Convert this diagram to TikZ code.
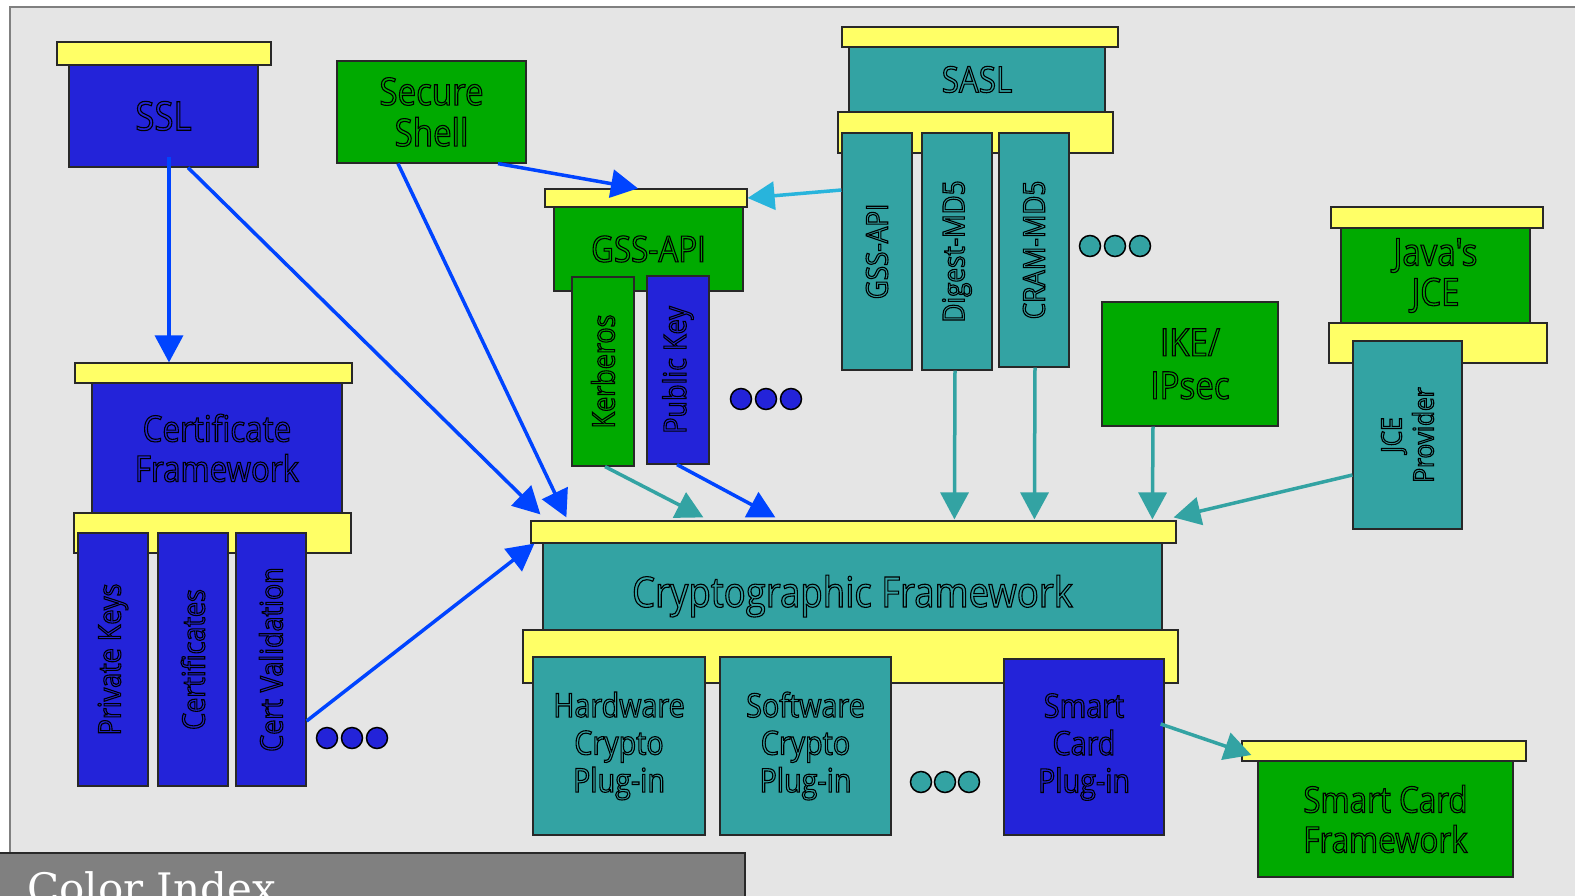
\documentclass[tikz,border=0pt]{standalone}
\usepackage{fontspec}
\newfontfamily\boxfont[FakeStretch=0.87,Ligatures=TeXOff]{Open Sans}
\newfontfamily\idxfont{DejaVu Serif}
\usetikzlibrary{arrows.meta}

\definecolor{panel}{RGB}{229,229,229}
\definecolor{bluebox}{RGB}{35,35,217}
\definecolor{greenbox}{RGB}{0,170,0}
\definecolor{tealbox}{RGB}{51,163,163}
\definecolor{ybar}{RGB}{255,255,102}
\definecolor{boxline}{RGB}{40,40,40}
\definecolor{arrblue}{RGB}{0,68,255}
\definecolor{arrcyan}{RGB}{40,180,220}
\definecolor{idxgray}{RGB}{128,128,128}

% outlined text (stroke only) / normal text
\newcommand{\outlon}{\special{pdf:literal direct 1 Tr 1.1 w}}
\newcommand{\filledon}{\special{pdf:literal direct 0 Tr}}

\tikzset{
  box/.style={draw=boxline, line width=1.2pt, rectangle, inner sep=0pt, text=black, align=center},
  bar/.style={box, fill=ybar},
  bl/.style={box, fill=bluebox},
  gr/.style={box, fill=greenbox},
  te/.style={box, fill=tealbox},
  fs/.style 2 args={font=\boxfont\fontsize{#1}{#2}\selectfont\outlon},
  sz/.style 2 args={minimum width=#1, minimum height=#2},
  link/.style={line width=3.5pt, -{Triangle[length=27pt,width=28pt]}},
  dot/.style={draw=black, line width=1.5pt},
}

\begin{document}
\begin{tikzpicture}[x=1pt,y=-1pt]
    \useasboundingbox (0,0) rectangle (1575,895);
    \fill[white] (0,0) rectangle (1575,895);
    \filldraw[fill=panel, draw=gray, line width=1.2pt] (10,7) rectangle (1590,910);

    % SSL
    \node[bar, sz={214}{23}] (sslbar) at (164,53.5) {};
    \node[bl, sz={189}{102}, fs={40}{44}] (ssl) at (163.5,116) {SSL};
    % Secure Shell
    \node[gr, sz={189}{102}, fs={38}{41}] (ssh) at (431.5,112) {Secure\\Shell};

    % Certificate Framework
    \node[bar, sz={277}{20}] (certbar) at (213.5,373) {};
    \node[bl, sz={250}{130}, fs={36}{40}] (cert) at (217,448) {Certificate\\Framework};
    \node[bar, sz={277}{40}] (certbar2) at (212.5,533) {};
    \node[bl, rotate=90, sz={253}{70}, fs={31}{34}] (privkeys) at (113,659.5) {Private Keys};
    \node[bl, rotate=90, sz={253}{70}, fs={31}{34}] (certs) at (193,659.5) {Certificates};
    \node[bl, rotate=90, sz={253}{70}, fs={31}{34}] (certval) at (271,659.5) {Cert Validation};
    \foreach \x in {327,352,377}
        \filldraw[dot, fill=bluebox] (\x,738) circle[radius=10.5];

    % GSS-API
    \node[bar, sz={202}{18}] (gssbar) at (646,198) {};
    \node[gr, sz={189}{84}, fs={36}{40}] (gss) at (648.5,249) {GSS-API};
    \node[gr, rotate=90, sz={189}{62}, fs={31}{34}] (kerberos) at (603,371.5) {Kerberos};
    \node[bl, rotate=90, sz={188}{62}, fs={31}{34}] (pubkey) at (678,370) {Public Key};
    \foreach \x in {741,766,791}
        \filldraw[dot, fill=bluebox] (\x,399) circle[radius=10.5];

    % SASL
    \node[bar, sz={276}{20}] (saslbar) at (980,37) {};
    \node[te, sz={256}{65}, fs={36}{40}] (sasl) at (977,79.5) {SASL};
    \node[bar, sz={275}{41}] (saslbar2) at (975.5,132.5) {};
    \node[te, rotate=90, sz={237}{70}, fs={30}{34}] (saslgss) at (877,251.5) {GSS-API};
    \node[te, rotate=90, sz={237}{70}, fs={30}{34}] (digest) at (957,251.5) {Digest-MD5};
    \node[te, rotate=90, sz={234}{70}, fs={30}{34}] (cram) at (1034,250) {CRAM-MD5};
    \foreach \x in {1090,1115,1140}
        \filldraw[dot, fill=tealbox] (\x,246) circle[radius=10.5];

    % IKE/IPsec
    \node[gr, sz={176}{124}, fs={38}{43}] (ike) at (1190,364) {IKE/\\IPsec};

    % Java's JCE
    \node[bar, sz={212}{21}] (jcebar) at (1437,217.5) {};
    \node[gr, sz={189}{95}, fs={38}{40}] (jce) at (1435.5,275.5) {Java's\\JCE};
    \node[bar, sz={218}{40}] (jcebar2) at (1438,343) {};
    \node[te, rotate=90, sz={188}{109}, fs={28}{32}] (jceprov) at (1407.5,435) {JCE\\Provider};

    % Cryptographic Framework
    \node[bar, sz={645}{22}] (cfbar) at (853.5,532) {};
    \node[te, sz={619}{87}, fs={42}{46}, text height=51pt, text depth=10pt] (cf) at (852.5,586.5) {Cryptographic Framework};
    \node[bar, sz={655}{53}] (cfbar2) at (850.5,656.5) {};
    \node[te, sz={172}{178}, fs={33}{37.5}] (hw) at (619,746) {Hardware\\Crypto\\Plug-in};
    \node[te, sz={171}{178}, fs={33}{37.5}] (sw) at (805.5,746) {Software\\Crypto\\Plug-in};
    \node[bl, sz={160}{176}, fs={33}{37.5}] (scplug) at (1084,747) {Smart\\Card\\Plug-in};
    \foreach \x in {921,945,969}
        \filldraw[dot, fill=tealbox] (\x,782) circle[radius=10.5];

    % Smart Card Framework
    \node[bar, sz={284}{20}] (scfbar) at (1384,751) {};
    \node[gr, sz={255}{116}, fs={36}{40}] (scf) at (1385.5,819) {Smart Card\\Framework};

    % Color Index
    \node[fill=idxgray, draw=boxline, line width=1.5pt, anchor=north west, inner sep=0pt, sz={749}{60}] (idx) at (-5,852) {};
    \node[anchor=base west, inner sep=0pt, text=white, font=\idxfont\fontsize{42}{46}\selectfont\filledon] (idxtext) at (27,903) {Color Index};

    % connectors (rotated boxes: .west = bottom, .north = left, .south = right)
    \draw[link, arrblue] ([shift={(5.5,-11)}]ssl.south) -- ([shift={(-44.5,0)}]certbar.north);
    \draw[link, arrblue] ([shift={(24.5,0)}]ssl.south) -- ([shift={(10,-6)}]cfbar.north west);
    \draw[link, arrblue] ([shift={(-33.5,0)}]ssh.south) -- ([shift={(36,-3)}]cfbar.north west);
    \draw[link, arrblue] ([shift={(66.5,0)}]ssh.south) -- ([shift={(-8,0)}]gssbar.north);
    \draw[link, arrcyan] ([shift={(0,-61.5)}]saslgss.north) -- (gssbar.east);
    \draw[link, tealbox] ([shift={(2,0)}]kerberos.west) -- ([shift={(173,-3)}]cfbar.north west);
    \draw[link, arrblue] ([shift={(-1,0)}]pubkey.west) -- ([shift={(245,-3)}]cfbar.north west);
    \draw[link, tealbox] ([shift={(-2,0)}]digest.west) -- ([shift={(424,-1)}]cfbar.north west);
    \draw[link, tealbox] ([shift={(1,0)}]cram.west) -- ([shift={(504,-1)}]cfbar.north west);
    \draw[link, tealbox] ([shift={(-37,0)}]ike.south) -- ([shift={(622,-1)}]cfbar.north west);
    \draw[link, tealbox] ([shift={(0,40)}]jceprov.north) -- ([shift={(-3,-3)}]cfbar.north east);
    \draw[link, arrblue] ([shift={(0,61.5)}]certval.south) -- ([shift={(4,0)}]cfbar.south west);
    \draw[link, tealbox] ([shift={(-4,-23)}]scplug.east) -- ([shift={(10,4)}]scfbar.west);
\end{tikzpicture}
\end{document}
